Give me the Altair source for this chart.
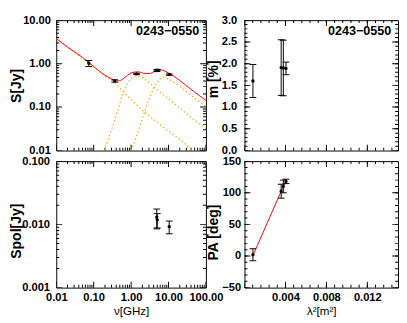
import altair as alt
import pandas as pd

# ---------------- data ----------------
source_name = "0243\u22120550"

# total-intensity spectrum (GHz, Jy)
s_freq = [0.074, 0.365, 1.4, 4.85, 5.0, 10.45]
s_flux = [1.02, 0.40, 0.58, 0.69, 0.71, 0.56]
s_err = [0.16, 0.025, 0.02, 0.03, 0.03, 0.02]

# fitted spectrum (red) and its three components (orange dotted)
fit_freq = [0.01, 0.02, 0.05, 0.074, 0.1, 0.2, 0.3, 0.37, 0.45, 0.6, 0.8, 1.0,
            1.5, 2.2, 3.0, 4.0, 5.0, 6.5, 8.0, 10, 20, 50, 100]
fit_flux = [3.8, 2.4, 1.4, 1.06, 0.86, 0.54, 0.45, 0.41, 0.40, 0.44, 0.54, 0.61,
            0.65, 0.60, 0.59, 0.64, 0.70, 0.72, 0.67, 0.61, 0.41, 0.22, 0.143]
c1_freq = [0.01, 0.074, 0.2, 0.37, 0.6, 1.0, 2.0, 5.0, 10, 20, 43]
c1_flux = [3.8, 1.02, 0.53, 0.36, 0.23, 0.15, 0.085, 0.045, 0.028, 0.018, 0.01]
c2_freq = [0.19, 0.3, 0.45, 0.6, 0.8, 1.0, 1.35, 1.8, 2.5, 3.5, 5, 10, 20, 50, 100]
c2_flux = [0.01, 0.03, 0.09, 0.2, 0.35, 0.45, 0.52, 0.50, 0.42, 0.33, 0.25, 0.155,
           0.095, 0.05, 0.032]
c3_freq = [1.0, 1.5, 2.2, 3.0, 4.0, 5.0, 6.0, 7.5, 10, 15, 20, 50, 100]
c3_flux = [0.01, 0.025, 0.07, 0.15, 0.27, 0.37, 0.45, 0.49, 0.44, 0.36, 0.30, 0.16, 0.105]

# polarized flux (GHz, Jy)
p_freq = [4.85, 5.0, 10.45]
p_flux = [0.0130, 0.0118, 0.0092]
p_err = [0.0045, 0.0030, 0.0021]

# polarization vs lambda^2 (m^2)
l2 = [0.00082, 0.00358, 0.00379, 0.00405]
m_val = [1.60, 1.91, 1.90, 1.89]
m_err = [0.38, 0.64, 0.64, 0.145]
pa_val = [2.0, 102.5, 110.0, 118.0]
pa_err = [9.5, 11.0, 10.0, 3.5]
pa_fit_l2 = [0.00082, 0.00405]
pa_fit = [1.0, 119.5]

# axis ranges and tick values
freq_dom = [0.01, 100]
s_dom = [0.01, 10]
sp_dom = [0.001, 0.1]
l2_dom = [0.0, 0.015]
m_dom = [0.0, 3.0]
pa_dom = [-50, 150]

logx_major = [0.01, 0.1, 1, 10, 100]
mults = [2, 3, 4, 5, 6, 7, 8, 9]
logx_minor = [round(m * d, 6) for d in [0.01, 0.1, 1, 10] for m in mults]
s_major = [0.01, 0.1, 1, 10]
s_minor = [round(m * d, 6) for d in [0.01, 0.1, 1] for m in mults]
sp_major = [0.001, 0.01, 0.1]
sp_minor = [round(m * d, 7) for d in [0.001, 0.01] for m in mults]
m_major = [0.0, 0.5, 1.0, 1.5, 2.0, 2.5, 3.0]
m_minor = [round(0.1 * i, 2) for i in range(31)]
pa_major = [-50, 0, 50, 100, 150]
pa_minor = list(range(-50, 151, 10))
l2_major = [0.0, 0.004, 0.008, 0.012]
l2_minor = [round(0.0008 * i, 5) for i in range(19)]
l2_labels = [0.004, 0.008, 0.012]

FONT = "Liberation Sans"
MAJ, MIN = 6, 3

W1, W2 = 155, 159
H1, H2 = 135, 131


def yaxis(title, fmt, values, pad, tx, ty):
    return alt.Axis(title=title, format=fmt, values=values, ticks=False, domain=False,
                    grid=False, labelFont=FONT, labelFontSize=11.5, labelFontWeight="bold",
                    labelColor="black", labelPadding=pad, labelOverlap=False,
                    titleFont=FONT, titleFontSize=14.5, titleFontWeight="bold",
                    titleColor="black", titleX=tx, titleY=ty, titleBaseline="middle",
                    titleAngle=270, titleAlign="center")


def xaxis(title, fmt, values, W):
    return alt.Axis(title=title, format=fmt, values=values, ticks=False, domain=False,
                    grid=False, labelFont=FONT, labelFontSize=11.5, labelFontWeight="bold",
                    labelColor="black", labelPadding=4, labelFlush=False,
                    labelOverlap=False, titleFont=FONT, titleFontSize=12,
                    titleFontWeight="normal", titleColor="black", titleX=W / 2,
                    titleY=19, titleBaseline="top", titleAlign="center")


class Panel:
    """Holds the scales and the axis objects that every layer of a panel shares."""

    def __init__(self, xs, ys, xax, yax):
        self.xs, self.ys, self.xax, self.yax = xs, ys, xax, yax

    def X(self, f):
        return alt.X(f, type="quantitative", scale=self.xs, axis=self.xax)

    def Y(self, f):
        return alt.Y(f, type="quantitative", scale=self.ys, axis=self.yax)


def frame_ticks(P, xdom, ydom, xmaj, xmin, ymaj, ymin):
    # inward ticks on all four sides: ticks centred on the frame edges, clipped
    layers = []
    for vals, L in [(xmaj, MAJ), (xmin, MIN)]:
        d = pd.DataFrame({"tv": [v for v in vals for _ in ydom],
                          "edge": [e for _ in vals for e in ydom]})
        layers.append(alt.Chart(d).mark_tick(
            color="black", orient="vertical", size=2 * L, thickness=1,
            opacity=1, clip=True).encode(x=P.X("tv"), y=P.Y("edge")))
    for vals, L in [(ymaj, MAJ), (ymin, MIN)]:
        d = pd.DataFrame({"tv": [v for v in vals for _ in xdom],
                          "edge": [e for _ in vals for e in xdom]})
        layers.append(alt.Chart(d).mark_tick(
            color="black", orient="horizontal", size=2 * L, thickness=1,
            opacity=1, clip=True).encode(y=P.Y("tv"), x=P.X("edge")))
    return layers


def errpoints(P, xv, yv, ev):
    d = pd.DataFrame({"x": xv, "y": yv,
                      "lo": [a - b for a, b in zip(yv, ev)],
                      "hi": [a + b for a, b in zip(yv, ev)]})
    base = alt.Chart(d)
    return [
        base.mark_rule(color="black", strokeWidth=1).encode(
            x=P.X("x"), y=P.Y("lo"), y2="hi:Q"),
        base.mark_tick(color="black", orient="horizontal", size=7, thickness=1,
                       opacity=1).encode(x=P.X("x"), y=P.Y("lo")),
        base.mark_tick(color="black", orient="horizontal", size=7, thickness=1,
                       opacity=1).encode(x=P.X("x"), y=P.Y("hi")),
        base.mark_circle(color="black", size=12, opacity=1).encode(
            x=P.X("x"), y=P.Y("y")),
    ]


def curve(P, xv, yv, color, dash=None, width=1.0):
    d = pd.DataFrame({"x": xv, "y": yv})
    kw = dict(color=color, strokeWidth=width, interpolate="monotone", clip=True)
    if dash:
        kw["strokeDash"] = dash
    return alt.Chart(d).mark_line(**kw).encode(x=P.X("x"), y=P.Y("y"))


def name_label(W):
    return alt.Chart(pd.DataFrame({"name": [source_name]})).mark_text(
        align="right", baseline="top", font=FONT, fontSize=13, fontWeight="bold",
        color="black").encode(x=alt.value(W - 7), y=alt.value(5), text="name:N")


sx_freq = alt.Scale(type="log", domain=freq_dom, nice=False)
sy_s = alt.Scale(type="log", domain=s_dom, nice=False)
sy_p = alt.Scale(type="log", domain=sp_dom, nice=False)
sx_l2 = alt.Scale(type="linear", domain=l2_dom, nice=False, zero=False)
sy_m = alt.Scale(type="linear", domain=m_dom, nice=False)
sy_pa = alt.Scale(type="linear", domain=pa_dom, nice=False, zero=False)

# top-left: total intensity spectrum
P = Panel(sx_freq, sy_s, None, yaxis("S[Jy]", ".2f", s_major, 6, -41, H1 * 0.5))
tl_layers = frame_ticks(P, freq_dom, s_dom, logx_major, logx_minor, s_major, s_minor)
tl_layers += [
    curve(P, c1_freq, c1_flux, "#ffa500", [1.5, 2.5], 1.2),
    curve(P, c2_freq, c2_flux, "#ffa500", [1.5, 2.5], 1.2),
    curve(P, c3_freq, c3_flux, "#ffa500", [1.5, 2.5], 1.2),
    curve(P, fit_freq, fit_flux, "#ff0000", None, 1.0),
]
tl_layers += errpoints(P, s_freq, s_flux, s_err)
tl_layers.append(name_label(W1))
tl = alt.layer(*tl_layers).properties(width=W1, height=H1)

# top-right: fractional polarization
P = Panel(sx_l2, sy_m, None, yaxis("m [%]", ".1f", m_major, 8, -32, H1 * 0.45))
tr_layers = frame_ticks(P, l2_dom, m_dom, l2_major, l2_minor, m_major, m_minor)
tr_layers += errpoints(P, l2, m_val, m_err)
tr_layers.append(name_label(W2))
tr = alt.layer(*tr_layers).properties(width=W2, height=H1)

# bottom-left: polarized flux
P = Panel(sx_freq, sy_p, xaxis("\u03bd[GHz]", ".2f", logx_major, W1),
          yaxis("Spol[Jy]", ".3f", sp_major, 7, -41, H2 * 0.55))
bl_layers = frame_ticks(P, freq_dom, sp_dom, logx_major, logx_minor, sp_major, sp_minor)
bl_layers += errpoints(P, p_freq, p_flux, p_err)
bl = alt.layer(*bl_layers).properties(width=W1, height=H2)

# bottom-right: polarization angle
P = Panel(sx_l2, sy_pa, xaxis("\u03bb\u00b2[m\u00b2]", ".3f", l2_labels, W2),
          yaxis("PA [deg]", "d", pa_major, 4, -32, H2 * 0.56))
br_layers = frame_ticks(P, l2_dom, pa_dom, l2_major, l2_minor, pa_major, pa_minor)
br_layers.append(curve(P, pa_fit_l2, pa_fit, "#ff0000", None, 1.0))
br_layers += errpoints(P, l2, pa_val, pa_err)
br = alt.layer(*br_layers).properties(width=W2, height=H2)

chart = alt.concat(tl, tr, bl, br, columns=2, spacing={"row": 11, "column": 40},
                   bounds="flush", align="each").properties(
    padding=0, background="white"
).configure_view(stroke="black", strokeWidth=1).configure_axis(
    grid=False, ticks=False, domain=False, labelColor="black", titleColor="black")

chart.save("out.html", embed_options={"renderer": "svg", "actions": False})
